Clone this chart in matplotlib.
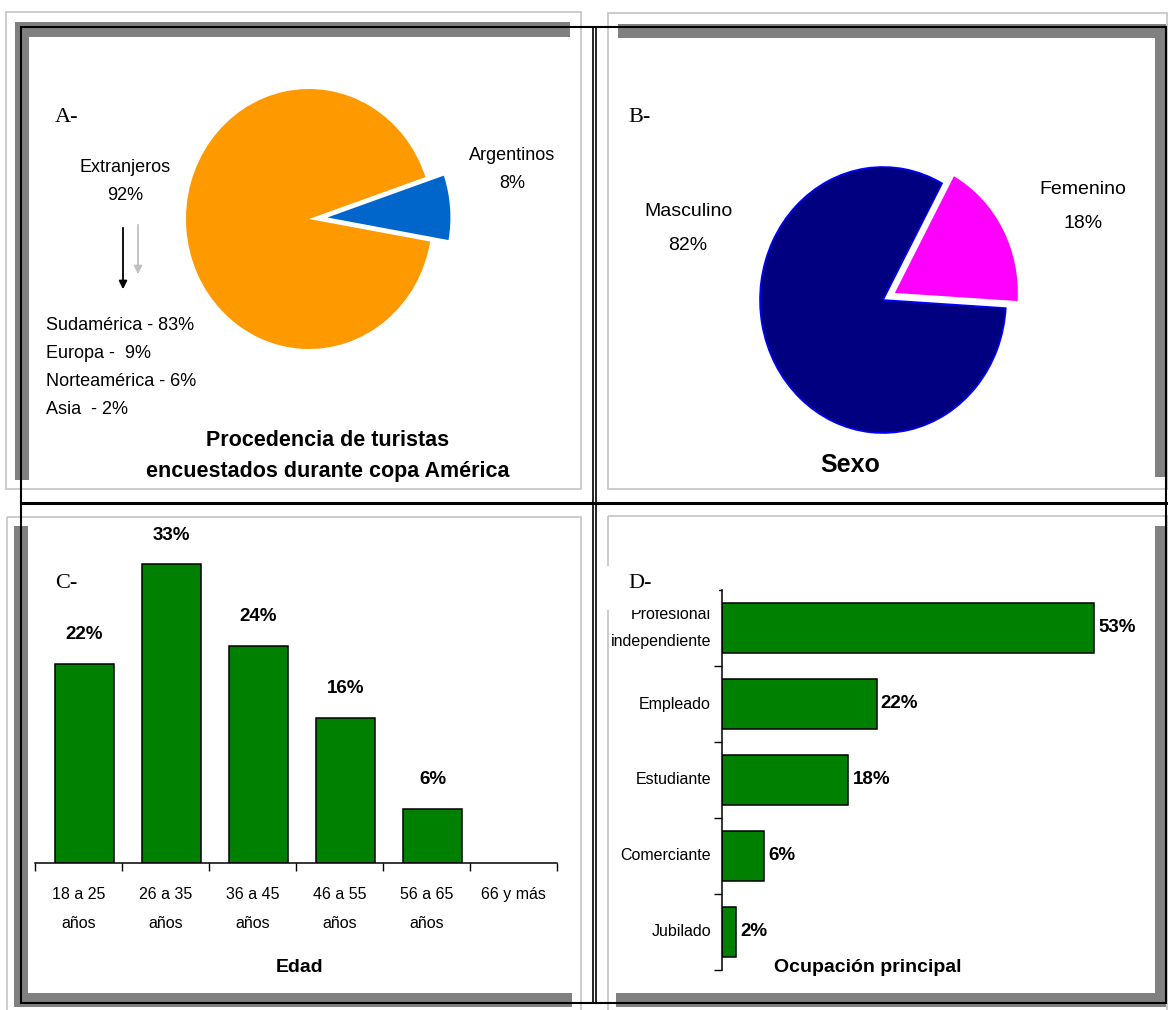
import matplotlib
matplotlib.use("Agg")
import numpy as np
import matplotlib.pyplot as plt
from matplotlib.patches import Rectangle

W, H = 1168, 1010

# --- data ---
origin_labels = ["Argentinos", "Extranjeros"]
origin_values = [8, 92]
origin_colors = ["#0066CC", "#FF9900"]
region_lines = ["Sudamérica - 83%", "Europa -  9%", "Norteamérica - 6%", "Asia  - 2%"]

sex_labels = ["Femenino", "Masculino"]
sex_values = [18, 82]
sex_colors = ["#FF00FF", "#000080"]

age_groups = ["18 a 25\naños", "26 a 35\naños", "36 a 45\naños",
              "46 a 55\naños", "56 a 65\naños", "66 y más"]
age_values = [22, 33, 24, 16, 6, 0]

jobs = ["Profesional\nindependiente", "Empleado", "Estudiante", "Comerciante", "Jubilado"]
job_values = [53, 22, 18, 6, 2]

SANS = ["Liberation Sans", "Arial", "DejaVu Sans"]
NARROW = ["Liberation Sans Narrow", "Liberation Sans", "DejaVu Sans"]
SERIF = ["Liberation Serif", "DejaVu Serif"]
GREEN = "#008000"

fig = plt.figure(figsize=(W / 100, H / 100), dpi=100)


def px_axes(x0, y0, x1, y1, z=1):
    return fig.add_axes([x0 / W, 1 - y1 / H, (x1 - x0) / W, (y1 - y0) / H], zorder=z)


# --- background frames (pixel coords) ---
bg = px_axes(0, 0, W, H, z=0)
bg.set_xlim(0, W)
bg.set_ylim(H, 0)
bg.axis("off")

light = "#C8C8C8"
for x0, y0, x1, y1 in [(6, 12, 581, 489), (608, 13, 1167, 489),
                       (7, 517, 581, 1012), (608, 516, 1167, 1012)]:
    bg.add_patch(Rectangle((x0, y0), x1 - x0, y1 - y0, fill=False, ec=light, lw=1.3))

shade = "#808080"
for x0, y0, x1, y1 in [(15, 22, 570, 37), (15, 22, 29, 480),
                       (618, 24, 1166, 38), (1155, 24, 1166, 477),
                       (14, 526, 28, 1007), (14, 993, 572, 1007),
                       (1155, 526, 1166, 1007), (616, 993, 1166, 1007)]:
    bg.add_patch(Rectangle((x0, y0), x1 - x0, y1 - y0, fc=shade, ec="none"))

bg.add_patch(Rectangle((21, 27), 1145, 976, fill=False, ec="black", lw=1.5))
bg.plot([593, 593], [27, 1003], color="black", lw=1.2)
bg.plot([596, 596], [27, 1003], color="black", lw=1.2)
bg.plot([21, 1166], [503, 503], color="black", lw=2.2)

# --- A: pie procedencia ---
k = 1.3
cx, cy, rx, ry = 309, 219, 123, 130
axA = px_axes(cx - rx * k, cy - ry * k, cx + rx * k, cy + ry * k)
axA.pie(origin_values, colors=origin_colors, startangle=-10, explode=[0.15, 0],
        wedgeprops=dict(linewidth=0))
axA.set_aspect("auto")
axA.set_xlim(-k, k)
axA.set_ylim(-k, k)

# --- B: pie sexo ---
cx, cy, rx, ry = 883, 300, 123, 133
axB = px_axes(cx - rx * k, cy - ry * k, cx + rx * k, cy + ry * k)
wedges, _ = axB.pie(sex_values, colors=sex_colors, startangle=-3.5, explode=[0.11, 0],
                    wedgeprops=dict(linewidth=0))
wedges[1].set_edgecolor("#0000FF")
wedges[1].set_linewidth(1.2)
axB.set_aspect("auto")
axB.set_xlim(-k, k)
axB.set_ylim(-k, k)

# --- C: bars edad ---
axC = px_axes(35, 540, 557, 863)
xs = np.arange(len(age_groups))
edges = ["black" if v > 0 else "none" for v in age_values]
axC.bar(xs + 0.07, age_values, width=0.68, color=GREEN, edgecolor=edges, linewidth=1.1)
axC.set_xlim(-0.5, len(age_groups) - 0.5)
axC.set_ylim(0, 35.7)
for s in ["top", "right", "left"]:
    axC.spines[s].set_visible(False)
axC.spines["bottom"].set_linewidth(1.1)
axC.set_yticks([])
axC.set_xticks(xs)
axC.set_xticklabels(age_groups, fontfamily=NARROW, fontsize=11.5, linespacing=2.2)
axC.set_xticks(np.arange(-0.5, len(age_groups)), minor=True)
axC.tick_params(axis="x", which="major", length=0, pad=17)
axC.tick_params(axis="x", which="minor", length=6, width=1, direction="out")
for x, v in zip(xs, age_values):
    if v > 0:
        axC.annotate(f"{v}%", (x + 0.07, v), xytext=(0, 15), textcoords="offset points",
                     ha="center", va="bottom", fontfamily=NARROW,
                     fontsize=13.5, fontweight="bold")

# --- D: barh ocupacion ---
axD = px_axes(722, 590, 1140, 970)
ys = np.arange(len(jobs))
axD.barh(ys, job_values, height=0.67, color=GREEN, edgecolor="black", linewidth=1.1)
axD.set_ylim(len(jobs) - 0.5, -0.5)
axD.set_xlim(0, 59.5)
for s in ["top", "right", "bottom"]:
    axD.spines[s].set_visible(False)
axD.spines["left"].set_linewidth(1.1)
axD.set_xticks([])
axD.set_yticks(ys)
axD.set_yticklabels(jobs, fontfamily=NARROW, fontsize=11.5, linespacing=2.0, va="center")
axD.set_yticks(np.arange(-0.5, len(jobs)), minor=True)
axD.tick_params(axis="y", which="major", length=0, pad=8)
axD.tick_params(axis="y", which="minor", length=6, width=1, direction="out")
for y, v in zip(ys, job_values):
    axD.annotate(f"{v}%", (v, y), xytext=(3, 0), textcoords="offset points",
                 ha="left", va="center", fontfamily=NARROW,
                 fontsize=13.5, fontweight="bold")

# --- overlay texts (pixel coords) ---
ov = px_axes(0, 0, W, H, z=5)
ov.set_xlim(0, W)
ov.set_ylim(H, 0)
ov.axis("off")
ov.patch.set_alpha(0)

# white box of the "D-" label hides the top of the first category label
ov.add_patch(Rectangle((600, 566), 119, 44, fc="white", ec="none"))

for t, x, y in [("A-", 55, 118), ("B-", 628, 118), ("C-", 55, 583), ("D-", 628, 583)]:
    ov.text(x, y, t, fontfamily=SERIF, fontsize=16, ha="left", va="center")

ov.text(512, 156, origin_labels[0], fontfamily=SANS, fontsize=13, ha="center", va="center")
ov.text(512, 184, f"{origin_values[0]}%", fontfamily=SANS, fontsize=13, ha="center", va="center")
ov.text(125, 168, origin_labels[1], fontfamily=SANS, fontsize=13, ha="center", va="center")
ov.text(125, 195, f"{origin_values[1]}%", fontfamily=SANS, fontsize=13, ha="center", va="center")

ov.annotate("", xy=(123, 292), xytext=(123, 225),
            arrowprops=dict(arrowstyle="-|>", color="black", lw=1.3, mutation_scale=12))
ov.annotate("", xy=(138, 277), xytext=(138, 222),
            arrowprops=dict(arrowstyle="-|>", color="#C0C0C0", lw=1.3, mutation_scale=12))

for i, line in enumerate(region_lines):
    ov.text(46, 325 + i * 28, line, fontfamily=SANS, fontsize=13, ha="left", va="center")

ov.text(328, 440, "Procedencia de turistas", fontfamily=SANS, fontsize=15.5,
        fontweight="bold", ha="center", va="center")
ov.text(328, 471, "encuestados durante copa América", fontfamily=SANS, fontsize=15.5,
        fontweight="bold", ha="center", va="center")

ov.text(688, 212, sex_labels[1], fontfamily=SANS, fontsize=14, ha="center", va="center")
ov.text(688, 246, f"{sex_values[1]}%", fontfamily=SANS, fontsize=14, ha="center", va="center")
ov.text(1083, 190, sex_labels[0], fontfamily=SANS, fontsize=14, ha="center", va="center")
ov.text(1083, 224, f"{sex_values[0]}%", fontfamily=SANS, fontsize=14, ha="center", va="center")
ov.text(850, 465, "Sexo", fontfamily=SANS, fontsize=18, fontweight="bold",
        ha="center", va="center")

ov.text(300, 968, "Edad", fontfamily=NARROW, fontsize=14, fontweight="bold",
        ha="center", va="center")
ov.text(868, 968, "Ocupación principal", fontfamily=NARROW, fontsize=14,
        fontweight="bold", ha="center", va="center")

fig.savefig("out.png", dpi=100, facecolor="white")
